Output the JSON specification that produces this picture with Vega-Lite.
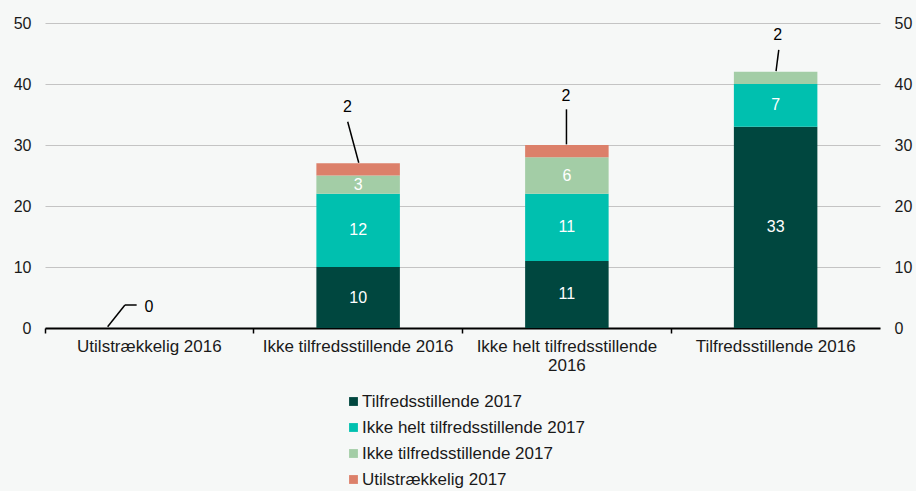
{
  "$schema": "https://vega.github.io/schema/vega-lite/v6.json",
  "width": 835,
  "height": 305,
  "autosize": {"type": "none"},
  "padding": {"left": 45, "top": 23, "right": 36, "bottom": 163},
  "background": "#f6f8f7",
  "config": {
    "view": {"stroke": null},
    "font": "Liberation Sans",
    "axis": {"labelFont": "Liberation Sans", "labelFontSize": 16, "labelColor": "#1a1a1a"},
    "legend": {"labelFont": "Liberation Sans", "labelFontSize": 17, "labelColor": "#1a1a1a"}
  },
  "datasets": {
    "bars": [
      {"cat": "Utilstrækkelig 2016", "s": "Tilfredsstillende 2017", "k": 1, "v": 0},
      {"cat": "Utilstrækkelig 2016", "s": "Ikke helt tilfredsstillende 2017", "k": 2, "v": 0},
      {"cat": "Utilstrækkelig 2016", "s": "Ikke tilfredsstillende 2017", "k": 3, "v": 0},
      {"cat": "Utilstrækkelig 2016", "s": "Utilstrækkelig 2017", "k": 4, "v": 0},
      {"cat": "Ikke tilfredsstillende 2016", "s": "Tilfredsstillende 2017", "k": 1, "v": 10},
      {"cat": "Ikke tilfredsstillende 2016", "s": "Ikke helt tilfredsstillende 2017", "k": 2, "v": 12},
      {"cat": "Ikke tilfredsstillende 2016", "s": "Ikke tilfredsstillende 2017", "k": 3, "v": 3},
      {"cat": "Ikke tilfredsstillende 2016", "s": "Utilstrækkelig 2017", "k": 4, "v": 2},
      {"cat": "Ikke helt tilfredsstillende 2016", "s": "Tilfredsstillende 2017", "k": 1, "v": 11},
      {"cat": "Ikke helt tilfredsstillende 2016", "s": "Ikke helt tilfredsstillende 2017", "k": 2, "v": 11},
      {"cat": "Ikke helt tilfredsstillende 2016", "s": "Ikke tilfredsstillende 2017", "k": 3, "v": 6},
      {"cat": "Ikke helt tilfredsstillende 2016", "s": "Utilstrækkelig 2017", "k": 4, "v": 2},
      {"cat": "Tilfredsstillende 2016", "s": "Tilfredsstillende 2017", "k": 1, "v": 33},
      {"cat": "Tilfredsstillende 2016", "s": "Ikke helt tilfredsstillende 2017", "k": 2, "v": 7},
      {"cat": "Tilfredsstillende 2016", "s": "Ikke tilfredsstillende 2017", "k": 3, "v": 2},
      {"cat": "Tilfredsstillende 2016", "s": "Utilstrækkelig 2017", "k": 4, "v": 0}
    ],
    "leaders": [
      {"u": 0.300, "v": 0.2, "u2": 0.383, "v2": 3.77},
      {"u": 0.383, "v": 3.77, "u2": 0.439, "v2": 3.77},
      {"u": 1.450, "v": 33.8, "u2": 1.503, "v2": 27.1},
      {"u": 2.498, "v": 35.85, "u2": 2.498, "v2": 30.1},
      {"u": 3.515, "v": 45.6, "u2": 3.502, "v2": 42.1}
    ],
    "callouts": [
      {"u": 0.498, "v": 3.44, "t": "0"},
      {"u": 1.449, "v": 36.15, "t": "2"},
      {"u": 2.496, "v": 38.0, "t": "2"},
      {"u": 3.510, "v": 48.0, "t": "2"}
    ]
  },
  "layer": [
    {
      "data": {"name": "bars"},
      "mark": {"type": "bar", "width": {"band": 0.4}},
      "encoding": {
        "x": {
          "field": "cat", "type": "nominal", "sort": null,
          "scale": {"domain": ["Utilstrækkelig 2016", "Ikke tilfredsstillende 2016", "Ikke helt tilfredsstillende 2016", "Tilfredsstillende 2016"], "paddingInner": 0, "paddingOuter": 0},
          "axis": {
            "title": null, "labelAngle": 0, "bandPosition": 0,
            "domainColor": "#000000", "domainWidth": 2,
            "tickColor": "#000000", "tickWidth": 1.5, "tickSize": 5,
            "labelPadding": 5, "labelLineHeight": 19, "labelFontSize": 17, "labelLimit": 300,
            "labelExpr": "datum.label == 'Ikke helt tilfredsstillende 2016' ? ['Ikke helt tilfredsstillende', '2016'] : datum.label"
          }
        },
        "y": {
          "field": "v", "type": "quantitative", "stack": "zero",
          "scale": {"domain": [0, 50], "nice": false},
          "axis": {
            "title": null, "orient": "left", "values": [0, 10, 20, 30, 40, 50],
            "domain": false, "ticks": false, "labelPadding": 14,
            "gridColor": "#c4c4c4", "gridWidth": 1.2
          }
        },
        "color": {
          "field": "s", "type": "nominal",
          "scale": {
            "domain": ["Tilfredsstillende 2017", "Ikke helt tilfredsstillende 2017", "Ikke tilfredsstillende 2017", "Utilstrækkelig 2017"],
            "range": ["#00473f", "#00c0af", "#a3cda6", "#dc806a"]
          },
          "legend": {
            "title": null, "orient": "none", "direction": "vertical",
            "legendX": 300, "legendY": 370,
            "symbolType": "square", "symbolSize": 78, "symbolStrokeWidth": 0,
            "labelOffset": 0, "rowPadding": 8, "labelLimit": 400
          }
        },
        "order": {"field": "k", "type": "quantitative"}
      }
    },
    {
      "data": {"name": "bars"},
      "transform": [
        {"stack": "v", "groupby": ["cat"], "sort": [{"field": "k"}], "as": ["y0", "y1"]},
        {"calculate": "(datum.y0 + datum.y1) / 2", "as": "ym"},
        {"filter": "datum.v >= 3"}
      ],
      "mark": {"type": "text", "color": "#ffffff", "fontSize": 16, "baseline": "middle"},
      "encoding": {
        "x": {"field": "cat", "type": "nominal", "sort": null, "scale": {"domain": ["Utilstrækkelig 2016", "Ikke tilfredsstillende 2016", "Ikke helt tilfredsstillende 2016", "Tilfredsstillende 2016"], "paddingInner": 0, "paddingOuter": 0}, "axis": null},
        "y": {"field": "ym", "type": "quantitative", "axis": null},
        "text": {"field": "v", "type": "quantitative"}
      }
    },
    {
      "data": {"name": "leaders"},
      "mark": {"type": "rule", "color": "#000000", "strokeWidth": 1.5},
      "encoding": {
        "x": {"field": "u", "type": "quantitative", "scale": {"domain": [0, 4], "nice": false, "zero": false}, "axis": null},
        "x2": {"field": "u2"},
        "y": {"field": "v", "type": "quantitative", "axis": null},
        "y2": {"field": "v2"}
      }
    },
    {
      "data": {"name": "callouts"},
      "mark": {"type": "text", "color": "#000000", "fontSize": 16, "baseline": "middle"},
      "encoding": {
        "x": {"field": "u", "type": "quantitative", "scale": {"domain": [0, 4], "nice": false, "zero": false}, "axis": null},
        "y": {
          "field": "v", "type": "quantitative",
          "axis": {
            "title": null, "orient": "right", "values": [0, 10, 20, 30, 40, 50],
            "domain": false, "ticks": false, "grid": false, "labelPadding": 14
          }
        },
        "text": {"field": "t"}
      }
    }
  ],
  "resolve": {"scale": {"x": "independent"}, "axis": {"y": "independent"}}
}
